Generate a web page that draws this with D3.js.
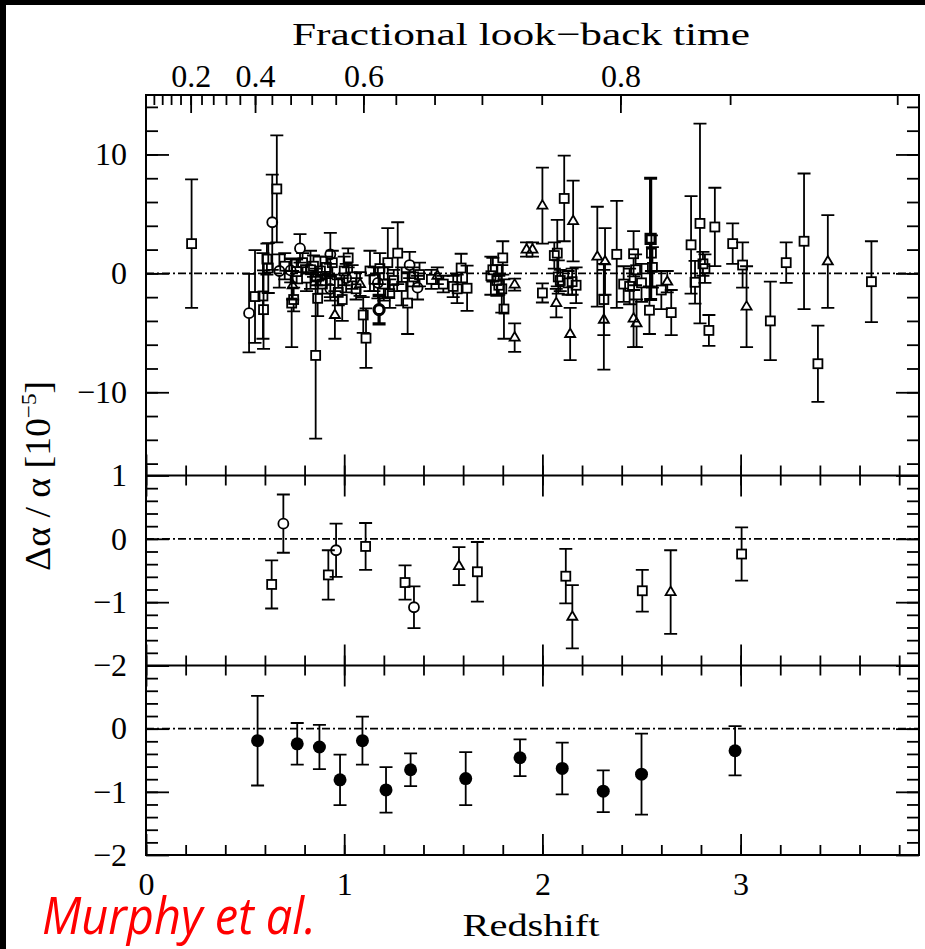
<!DOCTYPE html>
<html>
<head>
<meta charset="utf-8">
<script src="https://cdn.jsdelivr.net/npm/d3@7"></script>
<style>
  body { margin: 0; background: #fff; }
  text { fill: #000; }
</style>
</head>
<body>
<svg id="chart" width="925" height="949"></svg>
<script>
// ---- data: [redshift, delta alpha / alpha (1e-5), 1 sigma error] ----
// top panel, individual absorbers
var rawSquares = [
  [0.23, 2.5, 5.4], [0.55, -1.95, 3.9], [0.59, -1.9, 3.6], [0.593, -3.05, 3.3],
  [0.617, 0.45, 2.1], [0.61, 1.2, 1.3], [0.66, 7.1, 4.5], [0.70, 0.6, 1.1],
  [0.735, -2.5, 3.7], [0.745, -2.2, 1.0], [0.76, 0.15, 1.0], [0.79, 0.9, 0.8],
  [0.81, -0.4, 1.1], [0.83, 0.3, 1.6], [0.845, 0.6, 0.9], [0.856, -6.9, 7.0],
  [0.866, -2.1, 1.5], [0.86, -0.3, 0.7], [0.88, 0.2, 1.2], [0.89, -0.9, 0.8],
  [0.91, 0.5, 0.9], [0.93, -0.6, 1.4], [0.94, 0.9, 1.0], [0.97, -1.6, 1.1],
  [0.99, -2.2, 1.8], [1.0, 0.2, 1.2], [1.02, 1.3, 0.8], [1.04, -0.3, 1.0],
  [1.06, -1.3, 0.9], [1.096, -3.5, 1.5], [1.11, -5.45, 2.5], [1.13, 0.2, 1.7],
  [1.15, -0.5, 1.0], [1.18, 0.4, 1.3], [1.2, -0.9, 1.4], [1.22, 0.9, 2.9],
  [1.23, -1.7, 1.2], [1.25, -0.6, 0.9], [1.27, 1.7, 2.6], [1.29, -1.1, 1.6],
  [1.32, -2.5, 2.6], [1.35, -0.3, 0.8], [1.38, -0.1, 1.0], [1.44, -0.5, 0.8],
  [1.50, -0.9, 0.7], [1.55, -1.1, 0.9], [1.57, -1.3, 1.2], [1.59, 0.45, 1.2],
  [1.62, -1.25, 1.9], [1.74, -0.2, 1.6], [1.75, 0.3, 1.0], [1.77, -0.6, 1.3],
  [1.78, -1.0, 0.8], [1.795, -1.3, 2.0], [1.80, 1.3, 1.4], [1.806, -3.0, 2.5],
  [2.0, -1.65, 0.8], [2.06, 1.5, 1.1], [2.075, 1.7, 2.8], [2.08, -0.3, 1.4],
  [2.09, -0.6, 0.9], [2.11, 6.3, 3.6], [2.13, -0.8, 1.0], [2.15, -0.7, 1.1],
  [2.17, -1.0, 1.5], [2.31, -2.2, 3.0], [2.375, 1.6, 4.5], [2.41, -0.9, 1.5],
  [2.44, -1.1, 1.5], [2.46, 1.65, 1.9], [2.47, 0.3, 1.3], [2.5, -0.8, 1.6],
  [2.54, -3.1, 2.0], [2.55, 1.7, 1.5], [2.555, 0.5, 1.7], [2.60, -1.4, 1.6],
  [2.65, -3.3, 1.9], [2.75, 2.4, 4.1], [2.77, -0.75, 1.8], [2.795, 4.2, 8.4],
  [2.81, 0.8, 1.0], [2.82, 0.4, 1.2], [2.84, -4.8, 1.3], [2.87, 3.9, 3.3],
  [2.96, 2.5, 1.7], [3.01, 0.7, 1.9], [3.15, -4.0, 3.3], [3.23, 0.9, 1.7],
  [3.32, 2.7, 5.7], [3.39, -7.6, 3.2], [3.66, -0.7, 3.4]
];
var rawThickSquares = [[2.546, 2.9, 5.1]];
var rawCircles = [
  [0.52, -3.35, 3.3], [0.637, 4.3, 4.0], [0.673, 0.2, 1.4], [0.73, 0.25, 1.0],
  [0.777, 2.1, 1.2], [0.93, 1.6, 1.8], [0.93, -1.3, 1.0], [1.01, -0.4, 1.2],
  [1.17, -0.8, 1.3], [1.33, 0.7, 1.1], [1.37, -1.2, 1.0]
];
var rawThickCircles = [[1.176, -3.05, 1.2]];
var rawTriangles = [
  [0.74, -1.0, 1.2], [0.953, -3.5, 2.0], [1.08, -0.9, 1.0], [1.47, -0.2, 0.7],
  [1.86, -5.4, 1.2], [1.86, -0.95, 0.5], [1.92, 2.0, 0.6], [1.95, 2.0, 0.6],
  [2.0, 5.7, 3.2], [2.07, -2.5, 1.2], [2.14, -5.1, 2.2], [2.155, 4.4, 3.4],
  [2.277, 1.4, 4.2], [2.31, -3.9, 4.2], [2.316, 1.0, 2.8], [2.46, -3.8, 2.4],
  [2.475, -4.2, 2.0], [2.63, -0.7, 0.9], [3.03, -2.8, 3.4], [3.44, 1.0, 3.9]
];

// middle panel, binned per sample
var binSquares = [
  [0.634, -0.72, 0.38], [0.92, -0.57, 0.39], [1.108, -0.12, 0.37], [1.307, -0.69, 0.27],
  [1.672, -0.52, 0.47], [2.118, -0.59, 0.43], [2.504, -0.82, 0.33], [3.005, -0.24, 0.42]
];
var binCircles = [[0.693, 0.24, 0.46], [0.959, -0.18, 0.42], [1.352, -1.08, 0.33]];
var binTriangles = [[1.579, -0.43, 0.30], [2.151, -1.23, 0.50], [2.647, -0.84, 0.66]];

// bottom panel, all absorbers binned
var binAll = [
  [0.563, -0.19, 0.71], [0.763, -0.24, 0.33], [0.875, -0.29, 0.35], [0.979, -0.81, 0.40],
  [1.092, -0.19, 0.38], [1.211, -0.97, 0.36], [1.335, -0.65, 0.26], [1.613, -0.79, 0.42],
  [1.887, -0.46, 0.29], [2.1, -0.63, 0.41], [2.307, -0.99, 0.33], [2.5, -0.72, 0.64],
  [2.972, -0.35, 0.39]
];

// tick values
var xMajor = [0, 1, 2, 3];
var xMinor = d3.range(0, 3.81, 0.2);
var lookMajor = [0.2, 0.4, 0.6, 0.8];
var lookMinor = d3.range(0.04, 0.9, 0.04);
var topMajor = [-10, 0, 10];
var topMinor = d3.range(-16, 15, 2);
var subMajor = [-2, -1, 0, 1];
var subMinor = d3.range(-1.8, 0.9, 0.2);

// ---- layout ----
var svg = d3.select("#chart");
var L = 146, R = 919, T = 95, B1 = 475.5, B2 = 665.5, B3 = 855;
var lw = 1.8;
var serif = "'Liberation Serif', 'DejaVu Serif', serif";

var x = d3.scaleLinear().domain([0, 3.9]).range([L, R]);
var yTop = d3.scaleLinear().domain([-17, 15]).range([B1, T]);
var yMid = d3.scaleLinear().domain([-2, 1]).range([B2, B1]);
var yBot = d3.scaleLinear().domain([-2, 1]).range([B3, B2]);

// flat LCDM (Om=0.3, OL=0.7): redshift for a given fractional look-back time
var Om = 0.3, OL = 0.7;
var A0 = Math.asinh(Math.sqrt(OL / Om));
function zFromLookback(f) {
  var s = Math.sinh((1 - f) * A0) / Math.sqrt(OL / Om);
  return Math.pow(s, -2 / 3) - 1;
}

// black frame strips of the screenshot
svg.append("rect").attr("x", 0).attr("y", 0).attr("width", 925).attr("height", 5).attr("fill", "#000");
svg.append("rect").attr("x", 0).attr("y", 0).attr("width", 6).attr("height", 949).attr("fill", "#000");

function fmt(d) { return d < 0 ? "\u2212" + (-d) : String(d); }

function styleAxis(g) {
  g.select(".domain").remove();
  g.selectAll("line").attr("stroke", "#000").attr("stroke-width", lw);
  g.selectAll("text").style("font-family", serif).attr("font-size", 32).attr("fill", "#000");
}

// y axes for the three panels
function yAxes(y, minor, major, labels) {
  svg.append("g").attr("transform", "translate(" + L + ",0)")
    .call(d3.axisLeft(y).tickValues(minor).tickSize(-12).tickFormat("")).call(styleAxis);
  svg.append("g").attr("transform", "translate(" + L + ",0)")
    .call(d3.axisLeft(y).tickValues(major).tickSize(-23).tickPadding(19)
      .tickFormat(function (d) { return labels.indexOf(d) >= 0 ? fmt(d) : ""; }))
    .call(styleAxis);
  svg.append("g").attr("transform", "translate(" + R + ",0)")
    .call(d3.axisRight(y).tickValues(minor).tickSize(-12).tickFormat("")).call(styleAxis);
  svg.append("g").attr("transform", "translate(" + R + ",0)")
    .call(d3.axisRight(y).tickValues(major).tickSize(-23).tickFormat("")).call(styleAxis);
}
yAxes(yTop, topMinor, topMajor, [-10, 0, 10]);
yAxes(yMid, subMinor, subMajor, [-2, -1, 0, 1]);
yAxes(yBot, subMinor, subMajor, [-2, -1, 0]);

// x ticks on the panel edges
function xTicks(yPos, dirUp, dirDown) {
  if (dirUp) {
    svg.append("g").attr("transform", "translate(0," + yPos + ")")
      .call(d3.axisBottom(x).tickValues(xMinor).tickSize(-10).tickFormat("")).call(styleAxis);
    svg.append("g").attr("transform", "translate(0," + yPos + ")")
      .call(d3.axisBottom(x).tickValues(xMajor).tickSize(-21).tickFormat("")).call(styleAxis);
  }
  if (dirDown) {
    svg.append("g").attr("transform", "translate(0," + yPos + ")")
      .call(d3.axisTop(x).tickValues(xMinor).tickSize(-10).tickFormat("")).call(styleAxis);
    svg.append("g").attr("transform", "translate(0," + yPos + ")")
      .call(d3.axisTop(x).tickValues(xMajor).tickSize(-21).tickFormat("")).call(styleAxis);
  }
}
xTicks(B1, true, true);
xTicks(B2, true, true);
xTicks(B3, true, false);
svg.append("g").attr("transform", "translate(0," + B3 + ")")
  .call(d3.axisBottom(x).tickValues(xMajor).tickSize(0).tickPadding(17).tickFormat(fmt))
  .call(styleAxis);

// look-back time ticks on top
var lookMinorZ = lookMinor.map(zFromLookback).filter(function (z) { return z < 3.9; });
var lookMajorZ = lookMajor.map(zFromLookback);
svg.append("g").attr("transform", "translate(0," + T + ")")
  .call(d3.axisTop(x).tickValues(lookMinorZ).tickSize(-10).tickFormat("")).call(styleAxis);
svg.append("g").attr("transform", "translate(0," + T + ")")
  .call(d3.axisTop(x).tickValues(lookMajorZ).tickSize(-18).tickPadding(8)
    .tickFormat(function (d, i) { return lookMajor[i].toFixed(1); }))
  .call(styleAxis);

// zero lines
[yTop, yMid, yBot].forEach(function (y) {
  svg.append("line").attr("x1", L).attr("x2", R).attr("y1", y(0)).attr("y2", y(0))
    .attr("stroke", "#000").attr("stroke-width", 1.6).attr("stroke-dasharray", "8,3,2,3");
});

// frame
svg.append("rect").attr("x", L).attr("y", T).attr("width", R - L).attr("height", B3 - T)
  .attr("fill", "none").attr("stroke", "#000").attr("stroke-width", 2);
[B1, B2].forEach(function (yy) {
  svg.append("line").attr("x1", L).attr("x2", R).attr("y1", yy).attr("y2", yy)
    .attr("stroke", "#000").attr("stroke-width", 2);
});

// points with error bars
function drawPoints(data, y, shape, width) {
  var gap = shape === "square" ? 4.5 : shape === "circle" ? 5 : shape === "triangle" ? 5.5 : 0;
  var gapDn = shape === "triangle" ? 3 : gap;
  var cap = 6.5;
  var pts = svg.append("g").selectAll(null).data(data).enter().append("g")
    .attr("transform", function (d) { return "translate(" + x(d[0]) + "," + y(d[1]) + ")"; });
  pts.append("path")
    .attr("d", function (d) {
      var up = y(d[1] + d[2]) - y(d[1]), dn = y(d[1] - d[2]) - y(d[1]);
      var p = "";
      if (up < -gap) p += "M0," + up + "V" + (-gap);
      if (dn > gapDn) p += "M0," + gapDn + "V" + dn;
      p += "M" + (-cap) + "," + up + "H" + cap + "M" + (-cap) + "," + dn + "H" + cap;
      return p;
    })
    .attr("fill", "none").attr("stroke", "#000").attr("stroke-width", width);
  if (shape === "square") {
    pts.append("rect").attr("x", -4.5).attr("y", -4.5).attr("width", 9).attr("height", 9)
      .attr("fill", "none").attr("stroke", "#000").attr("stroke-width", width);
  } else if (shape === "circle") {
    pts.append("circle").attr("r", 5).attr("fill", "none").attr("stroke", "#000").attr("stroke-width", width);
  } else if (shape === "triangle") {
    pts.append("path").attr("d", "M0,-5.5L5,3H-5Z")
      .attr("fill", "none").attr("stroke", "#000").attr("stroke-width", width);
  } else {
    pts.append("circle").attr("r", 6.5).attr("fill", "#000");
  }
}
drawPoints(rawSquares, yTop, "square", lw);
drawPoints(rawThickSquares, yTop, "square", 3.2);
drawPoints(rawCircles, yTop, "circle", lw);
drawPoints(rawThickCircles, yTop, "circle", 3.2);
drawPoints(rawTriangles, yTop, "triangle", lw);
drawPoints(binSquares, yMid, "square", lw);
drawPoints(binCircles, yMid, "circle", lw);
drawPoints(binTriangles, yMid, "triangle", lw);
drawPoints(binAll, yBot, "filled", lw);

// titles
svg.append("text").attr("x", 521).attr("y", 45).attr("text-anchor", "middle")
  .style("font-family", serif).attr("font-size", 32)
  .attr("textLength", 458).attr("lengthAdjust", "spacingAndGlyphs")
  .text("Fractional look\u2212back time");
svg.append("text").attr("x", 531).attr("y", 936).attr("text-anchor", "middle")
  .style("font-family", serif).attr("font-size", 32)
  .attr("textLength", 137).attr("lengthAdjust", "spacingAndGlyphs")
  .text("Redshift");

var yl = svg.append("text").attr("transform", "translate(50,476) rotate(-90)")
  .attr("text-anchor", "middle").style("font-family", serif).attr("font-size", 36)
  .attr("textLength", 190).attr("lengthAdjust", "spacingAndGlyphs");
yl.append("tspan").text("\u0394\u03b1 / \u03b1  [10");
yl.append("tspan").attr("font-size", 22).attr("dy", -14).text("\u22125");
yl.append("tspan").attr("dy", 14).text("]");

svg.append("text").attr("x", 42).attr("y", 934)
  .style("font-family", "'Open Sans', 'Noto Sans', sans-serif").style("font-style", "italic")
  .attr("font-size", 52).attr("textLength", 274).attr("lengthAdjust", "spacingAndGlyphs")
  .style("fill", "#ff0000").text("Murphy et al.");
</script>
</body>
</html>
